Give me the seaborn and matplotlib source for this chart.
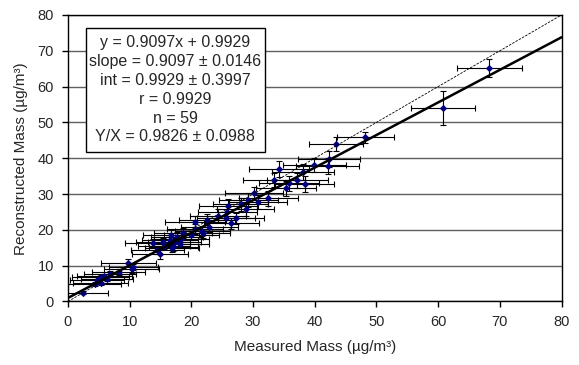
import numpy as np
import pandas as pd
import seaborn as sns
import matplotlib.pyplot as plt
from matplotlib.patches import Rectangle

# measured vs reconstructed mass
measured = [2.5, 4.3, 5.3, 4.7, 5.3, 5.9, 6.3, 8.2, 10.3, 9.8, 10.6, 14.9, 13.8, 15.4, 15.6,
            16.9, 17.1, 16.5, 17.3, 18.2, 16.7, 17.7, 18.4, 18.7, 20.6, 20.6, 21.8, 21.9, 22.9,
            25.6, 26.5, 27.2, 25.8, 26.0, 28.8, 29.2, 30.8, 32.5, 35.3, 38.4, 37.2, 33.4, 34.2,
            38.1, 39.9, 42.1, 42.3, 43.4, 60.8, 68.3, 48.2, 28.0, 24.3, 20.0, 14.5, 6.8, 35.8,
            30.2, 22.5]
reconstructed = [2.5, 4.8, 5.3, 6.0, 6.8, 7.1, 6.3, 8.3, 9.0, 10.8, 9.6, 13.2, 16.3, 16.5, 15.6,
                 15.0, 15.3, 17.2, 16.5, 16.0, 18.6, 18.1, 17.4, 19.0, 20.3, 22.3, 19.7, 19.0, 20.9,
                 23.4, 21.8, 23.2, 25.1, 26.8, 25.8, 28.4, 27.7, 28.8, 31.6, 32.7, 33.9, 33.9, 36.9,
                 36.1, 38.1, 37.9, 39.7, 44.0, 54.1, 65.2, 45.8, 27.2, 24.0, 18.5, 14.3, 7.6, 33.0,
                 30.2, 22.8]
measured_err = [4.0, 4.3, 4.5, 4.4, 4.6, 4.4, 4.2, 4.3, 4.5, 4.5, 4.0, 4.6, 4.5, 4.4, 4.2,
                4.4, 4.0, 4.5, 4.3, 4.6, 4.5, 4.2, 4.4, 4.7, 4.6, 4.8, 4.5, 4.3, 4.6,
                4.7, 4.5, 4.6, 4.8, 4.7, 4.6, 4.8, 4.7, 4.8, 4.9, 4.8, 4.9, 5.0, 4.8,
                5.0, 5.1, 5.1, 5.0, 4.4, 5.2, 5.3, 4.6, 4.5, 4.6, 4.4, 4.3, 4.2, 4.9,
                4.7, 4.5]
recon_err = [0.5, 0.6, 0.6, 0.7, 0.7, 0.7, 0.6, 0.8, 1.0, 1.0, 0.9, 1.2, 1.1, 1.2, 1.0,
             1.1, 1.2, 1.3, 1.2, 1.1, 1.3, 1.2, 1.3, 1.4, 1.4, 1.5, 1.4, 1.3, 1.5,
             1.6, 1.5, 1.6, 1.7, 1.8, 1.8, 1.9, 1.9, 2.0, 2.1, 2.2, 2.1, 2.0, 2.2,
             2.2, 2.0, 2.3, 2.2, 2.0, 4.7, 2.4, 1.6, 1.8, 1.7, 1.3, 1.1, 0.8, 2.1,
             1.9, 1.5]

slope, intercept = 0.9097, 0.9929
stats_lines = ["y = 0.9097x + 0.9929",
               "slope = 0.9097 \u00b1 0.0146",
               "int = 0.9929 \u00b1 0.3997",
               "r = 0.9929",
               "n = 59",
               "Y/X = 0.9826 \u00b1 0.0988"]

df = pd.DataFrame({"measured": measured, "reconstructed": reconstructed,
                   "xerr": measured_err, "yerr": recon_err})

sns.set_style("white")
plt.rcParams["font.family"] = ["Liberation Sans", "DejaVu Sans"]

fig = plt.figure(figsize=(5.79, 3.65), dpi=100)
ax = fig.add_axes([0.1174, 0.174, 0.8524, 0.785])

ax.errorbar(df["measured"], df["reconstructed"], xerr=df["xerr"], yerr=df["yerr"],
            fmt="none", ecolor="black", elinewidth=0.8, capsize=2.5, capthick=0.8, zorder=2)
sns.scatterplot(data=df, x="measured", y="reconstructed", marker="D", s=14,
                color="#000080", edgecolor="#000080", linewidth=0, ax=ax, zorder=3)

xs = np.array([0, 80])
ax.plot(xs, xs, color="black", lw=0.6, ls=(0, (3, 1.5)), zorder=4)
ax.plot(xs, slope * xs + intercept, color="black", lw=1.8, zorder=4)

ax.set_xlim(0, 80)
ax.set_ylim(0, 80)
ax.set_xticks(range(0, 81, 10))
ax.set_yticks(range(0, 81, 10))
ax.yaxis.grid(True, color="#606060", lw=1)
ax.set_axisbelow(True)
for s in ax.spines.values():
    s.set_color("black")
    s.set_linewidth(1)
ax.tick_params(axis="both", direction="out", length=4, width=1, color="black",
               labelsize=10.5, pad=6, bottom=True, left=True)

ax.set_xlabel("Measured Mass (\u00b5g/m\u00b3)", fontsize=11, labelpad=8)
ax.set_ylabel("Reconstructed Mass (\u00b5g/m\u00b3)", fontsize=11, labelpad=7)

# stats box
ax.add_patch(Rectangle((2.9, 41.8), 29.0, 34.6, facecolor="white", edgecolor="black",
                       lw=1, zorder=5))
ax.text(17.4, 59.1, "\n".join(stats_lines), ha="center", va="center", fontsize=11.5,
        linespacing=1.32, zorder=6)

fig.savefig("out.png", dpi=100)
